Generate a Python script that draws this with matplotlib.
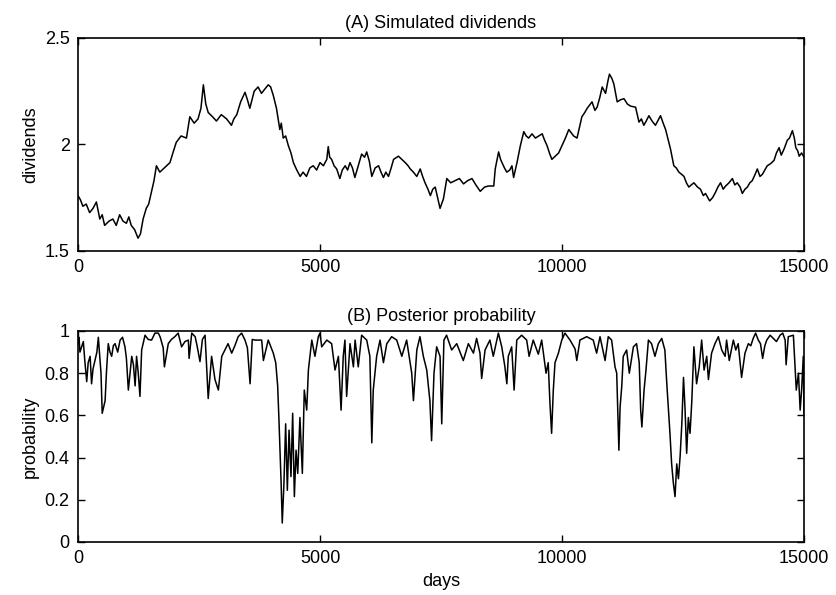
import numpy as np
from matplotlib import pyplot as plt

# (A) simulated dividends
div_days = [0, 50, 100, 170, 240, 310, 380, 450, 500, 550, 640, 720, 790, 860,
            930, 1000, 1050, 1100, 1170, 1240, 1290, 1345, 1410, 1460, 1520,
            1570, 1620, 1690, 1760, 1830, 1900, 1960, 2030, 2130, 2240, 2310,
            2400, 2480, 2540, 2590, 2640, 2690, 2780, 2860, 2960, 3070, 3170,
            3220, 3280, 3360, 3450, 3500, 3550, 3640, 3720, 3790, 3860, 3930,
            3980, 4035, 4100, 4170, 4200, 4240, 4290, 4345, 4400, 4450, 4520,
            4590, 4650, 4720, 4790, 4860, 4930, 5000, 5070, 5140, 5170, 5200,
            5240, 5290, 5345, 5410, 5460, 5520, 5570, 5620, 5670, 5720, 5790,
            5860, 5920, 5965, 6020, 6070, 6140, 6210, 6260, 6310, 6360, 6415,
            6470, 6520, 6620, 6690, 6760, 6820, 6865, 6930, 7000, 7070, 7120,
            7170, 7230, 7280, 7330, 7380, 7430, 7480, 7550, 7620, 7700, 7790,
            7880, 7965, 8050, 8140, 8220, 8310, 8400, 8480, 8590, 8620, 8690,
            8730, 8760, 8810, 8860, 8920, 8965, 9000, 9070, 9140, 9210, 9260,
            9310, 9380, 9450, 9520, 9590, 9640, 9690, 9740, 9790, 9860, 9930,
            10000, 10070, 10140, 10240, 10310, 10360, 10410, 10470, 10520,
            10620, 10680, 10725, 10780, 10830, 10900, 10950, 10980, 11030,
            11070, 11140, 11210, 11280, 11350, 11415, 11520, 11590, 11640,
            11690, 11740, 11795, 11860, 11930, 12035, 12090, 12140, 12240,
            12310, 12360, 12415, 12470, 12520, 12570, 12620, 12670, 12725,
            12800, 12860, 12920, 12965, 13050, 13110, 13170, 13220, 13275,
            13330, 13380, 13450, 13520, 13570, 13620, 13680, 13725, 13780,
            13830, 13880, 13930, 13990, 14035, 14090, 14140, 14190, 14240,
            14310, 14380, 14430, 14485, 14530, 14590, 14655, 14700, 14760,
            14800, 14830, 14870, 14900, 14950, 15000]
dividends = [1.76, 1.74, 1.71, 1.72, 1.68, 1.70, 1.73, 1.65, 1.67, 1.62, 1.64,
             1.65, 1.62, 1.67, 1.64, 1.63, 1.66, 1.62, 1.60, 1.56, 1.58, 1.65,
             1.70, 1.72, 1.78, 1.83, 1.90, 1.87, 1.885, 1.90, 1.915, 1.96,
             2.01, 2.04, 2.03, 2.13, 2.10, 2.12, 2.17, 2.28, 2.19, 2.15, 2.13,
             2.11, 2.14, 2.12, 2.09, 2.12, 2.14, 2.20, 2.245, 2.21, 2.17, 2.25,
             2.27, 2.24, 2.26, 2.28, 2.27, 2.23, 2.17, 2.07, 2.10, 2.03, 2.04,
             1.995, 1.96, 1.915, 1.88, 1.85, 1.87, 1.85, 1.89, 1.90, 1.88,
             1.915, 1.90, 1.93, 1.99, 1.94, 1.93, 1.90, 1.885, 1.84, 1.88,
             1.90, 1.88, 1.915, 1.89, 1.845, 1.90, 1.955, 1.94, 1.965, 1.92,
             1.85, 1.89, 1.90, 1.87, 1.845, 1.87, 1.85, 1.89, 1.93, 1.945,
             1.93, 1.915, 1.90, 1.885, 1.87, 1.85, 1.885, 1.85, 1.82, 1.79,
             1.76, 1.79, 1.80, 1.75, 1.70, 1.745, 1.84, 1.82, 1.83, 1.84,
             1.815, 1.83, 1.84, 1.81, 1.78, 1.80, 1.805, 1.805, 1.885, 1.965,
             1.93, 1.915, 1.89, 1.87, 1.88, 1.90, 1.845, 1.915, 1.995, 2.06,
             2.04, 2.03, 2.05, 2.03, 2.04, 2.05, 2.02, 1.995, 1.96, 1.93,
             1.945, 1.96, 1.995, 2.03, 2.07, 2.04, 2.03, 2.08, 2.13, 2.15,
             2.17, 2.20, 2.16, 2.175, 2.22, 2.27, 2.24, 2.30, 2.33, 2.31,
             2.285, 2.20, 2.21, 2.215, 2.19, 2.18, 2.175, 2.105, 2.12, 2.09,
             2.11, 2.135, 2.11, 2.09, 2.135, 2.10, 2.07, 1.98, 1.90, 1.89,
             1.87, 1.86, 1.85, 1.82, 1.80, 1.81, 1.82, 1.80, 1.79, 1.76, 1.77,
             1.735, 1.75, 1.775, 1.80, 1.82, 1.79, 1.805, 1.82, 1.84, 1.81,
             1.82, 1.80, 1.77, 1.79, 1.80, 1.82, 1.83, 1.86, 1.885, 1.85,
             1.86, 1.88, 1.90, 1.91, 1.925, 1.96, 1.985, 1.95, 1.98, 2.02,
             2.03, 2.065, 2.03, 1.985, 1.97, 1.945, 1.96, 1.94]

# (B) posterior probability, main readings
prob_days = [0, 40, 110, 180, 250, 280, 350, 420, 475, 500, 560, 590, 625, 695,
             765, 870, 970, 1040, 1110, 1180, 1210, 1280, 1315, 1385, 1520,
             1660, 1760, 1785, 1865, 2000, 2140, 2280, 2295, 2420, 2520, 2625,
             2690, 2760, 2830, 2900, 2970, 3100, 3175, 3310, 3450, 3555, 3660,
             3795, 3830, 3930, 4035, 4085, 4125, 4150, 4195, 4220, 4255, 4290,
             4325, 4360, 4400, 4435, 4470, 4505, 4540, 4585, 4635, 4675, 4725,
             4760, 4830, 4895, 4965, 5000, 5035, 5140, 5240, 5310, 5380, 5435,
             5480, 5515, 5550, 5620, 5690, 5725, 5790, 5860, 5965, 6030, 6070,
             6100, 6170, 6240, 6310, 6380, 6480, 6585, 6690, 6790, 6895, 6930,
             7000, 7065, 7135, 7205, 7270, 7305, 7355, 7410, 7480, 7515, 7560,
             7615, 7720, 7825, 7960, 8065, 8170, 8235, 8305, 8340, 8410, 8510,
             8580, 8685, 8755, 8820, 8860, 8890, 8960, 9010, 9065, 9165, 9270,
             9320, 9405, 9510, 9580, 9670, 9715, 9750, 9785, 9820, 9855, 9925,
             9995, 10060, 10165, 10270, 10305, 10370, 10510, 10645, 10715,
             10785, 10890, 10955, 11025, 11095, 11130, 11175, 11200, 11235,
             11265, 11335, 11390, 11475, 11540, 11595, 11625, 11650, 11695,
             11735, 11785, 11850, 11920, 11990, 12060, 12125, 12165, 12195,
             12230, 12265, 12300, 12335, 12370, 12405, 12440, 12475, 12510,
             12540, 12575, 12610, 12645, 12680, 12725, 12780, 12835, 12885,
             12935, 12990, 13025, 13090, 13160, 13230, 13300, 13370, 13400,
             13455, 13540, 13640, 13710, 13780, 13850, 13950, 14055, 14145,
             14230, 14365, 14505, 14610, 14630, 14675, 14780, 14840, 14885,
             14920, 14950, 14985, 15000]
probability = [0.94, 0.90, 0.95, 0.76, 0.88, 0.75, 0.86, 0.97, 0.80, 0.61, 0.67,
               0.815, 0.94, 0.88, 0.94, 0.957, 0.925, 0.72, 0.88, 0.74, 0.88,
               0.69, 0.91, 0.98, 0.957, 0.99, 0.92, 0.83, 0.94, 0.973, 0.925,
               0.957, 0.87, 0.973, 0.855, 0.98, 0.68, 0.88, 0.77, 0.72, 0.88,
               0.94, 0.895, 0.973, 0.957, 0.75, 0.957, 0.957, 0.86, 0.957,
               0.895, 0.85, 0.74, 0.59, 0.29, 0.09, 0.28, 0.56, 0.245, 0.53,
               0.31, 0.61, 0.215, 0.435, 0.325, 0.59, 0.325, 0.72, 0.625, 0.815,
               0.957, 0.88, 0.973, 0.99, 0.925, 0.957, 0.94, 0.815, 0.88, 0.625,
               0.88, 0.957, 0.69, 0.94, 0.83, 0.957, 0.83, 0.98, 0.957, 0.88,
               0.47, 0.72, 0.88, 0.957, 0.85, 0.94, 0.973, 0.957, 0.88, 0.957,
               0.80, 0.67, 0.91, 0.973, 0.88, 0.815, 0.67, 0.48, 0.80, 0.925,
               0.88, 0.56, 0.957, 0.98, 0.91, 0.94, 0.86, 0.94, 0.895, 0.965,
               0.895, 0.775, 0.91, 0.957, 0.88, 0.99, 0.925, 0.83, 0.75, 0.88,
               0.925, 0.72, 0.957, 0.98, 0.957, 0.88, 0.957, 0.89, 0.957, 0.80,
               0.85, 0.66, 0.515, 0.72, 0.85, 0.895, 0.957, 0.99, 0.957, 0.915,
               0.86, 0.957, 0.973, 0.957, 0.895, 0.973, 0.86, 0.973, 0.957,
               0.83, 0.80, 0.435, 0.64, 0.74, 0.88, 0.91, 0.80, 0.925, 0.94,
               0.85, 0.625, 0.545, 0.72, 0.815, 0.957, 0.94, 0.88, 0.94, 0.965,
               0.91, 0.75, 0.64, 0.515, 0.37, 0.28, 0.215, 0.37, 0.30, 0.405,
               0.56, 0.78, 0.64, 0.42, 0.59, 0.515, 0.66, 0.925, 0.75, 0.83,
               0.957, 0.815, 0.88, 0.77, 0.895, 0.94, 0.973, 0.91, 0.88, 0.957,
               0.86, 0.957, 0.94, 0.78, 0.895, 0.94, 0.965, 0.957, 0.87, 0.957,
               0.965, 0.98, 0.957, 0.84, 0.973, 0.98, 0.72, 0.80, 0.625, 0.72,
               0.88, 0.60]

# (B) extra readings of the small flickers near the top
prob_days_extra = [20, 140, 210, 310, 390, 660, 730, 820, 920, 1000, 1075, 1145,
                   1245, 1450, 1590, 1700, 1930, 2070, 2210, 2350, 2460, 2570,
                   3240, 3380, 3500, 3600, 13590, 13900, 14000, 14100, 14190,
                   14300, 14430, 14560]
prob_extra = [0.97, 0.86, 0.85, 0.82, 0.90, 0.90, 0.93, 0.90, 0.97, 0.87, 0.80,
              0.84, 0.80, 0.96, 0.99, 0.97, 0.96, 0.99, 0.95, 0.99, 0.93, 0.96,
              0.93, 0.99, 0.92, 0.96, 0.91, 0.93, 0.99, 0.94, 0.93, 0.98, 0.95,
              0.99]

x_ticks = [0, 5000, 10000, 15000]
x_labels = ['0', '5000', '10000', '15000']
div_ticks = [1.5, 2, 2.5]
div_labels = ['1.5', '2', '2.5']
prob_ticks = [0, 0.2, 0.4, 0.6, 0.8, 1]
prob_labels = ['0', '0.2', '0.4', '0.6', '0.8', '1']


def style(ax):
    ax.tick_params(direction='in', top=True, right=True, length=5, width=1,
                   labelsize=13, pad=6)
    for s in ax.spines.values():
        s.set_linewidth(1.2)
    ax.set_xlim(0, 15000)
    ax.set_xticks(x_ticks)
    ax.set_xticklabels(x_labels)


plt.rcParams['font.family'] = ['Liberation Sans', 'DejaVu Sans']

# merge both sets of probability readings in day order
pd_all = np.array(prob_days + prob_days_extra)
pv_all = np.array(probability + prob_extra)
order = np.argsort(pd_all, kind='stable')

fig = plt.figure(figsize=(8.37, 5.95), dpi=100)
ax1 = fig.add_axes([0.0932, 0.5782, 0.8674, 0.358])
ax2 = fig.add_axes([0.0932, 0.0891, 0.8674, 0.3546])

ax1.plot(div_days, dividends, color='black', lw=1.1)
style(ax1)
ax1.set_ylim(1.5, 2.5)
ax1.set_yticks(div_ticks)
ax1.set_yticklabels(div_labels)
ax1.set_ylabel('dividends', fontsize=13)
ax1.set_title('(A) Simulated dividends', fontsize=13, pad=7)

ax2.plot(pd_all[order], pv_all[order], color='black', lw=1.1)
style(ax2)
ax2.set_ylim(0, 1)
ax2.set_yticks(prob_ticks)
ax2.set_yticklabels(prob_labels)
ax2.set_ylabel('probability', fontsize=13)
ax2.set_xlabel('days', fontsize=13)
ax2.set_title('(B) Posterior probability', fontsize=13, pad=7)

fig.savefig('out.png', dpi=100)
